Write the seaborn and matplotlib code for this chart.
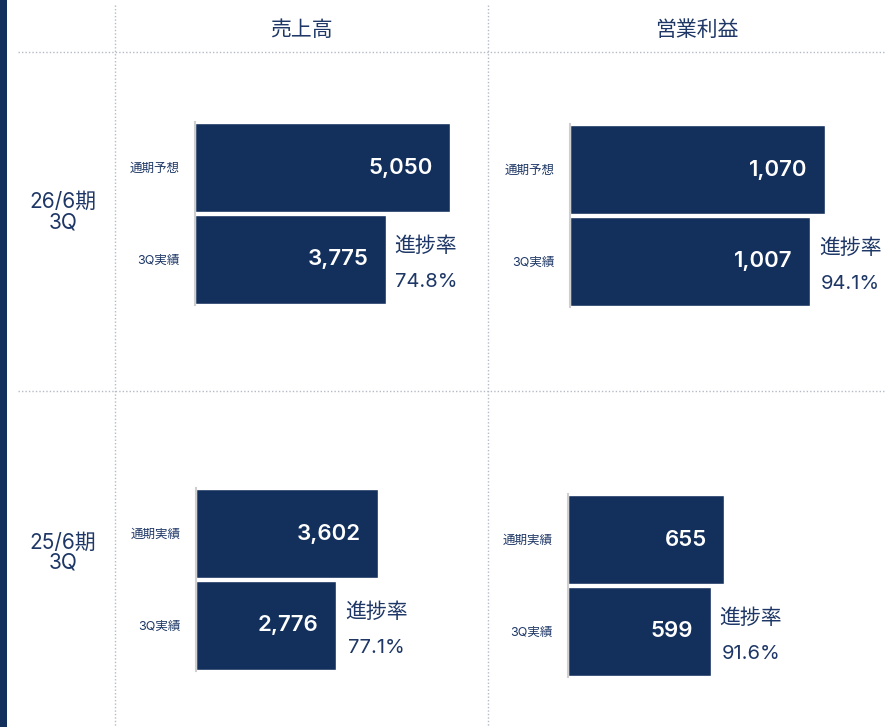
import matplotlib
matplotlib.use("Agg")
import matplotlib.pyplot as plt
import seaborn as sns
import pandas as pd
from matplotlib.lines import Line2D
from matplotlib.patches import Rectangle

# ---- data ----
metrics = ["売上高", "営業利益"]
periods = ["26/6期\n3Q", "25/6期\n3Q"]
cats_current = ["通期予想", "3Q実績"]
cats_previous = ["通期実績", "3Q実績"]
sales_current = [5050, 3775]
sales_previous = [3602, 2776]
profit_current = [1070, 1007]
profit_previous = [655, 599]
rate_label = "進捗率"
sales_rates = ["74.8%", "77.1%"]
profit_rates = ["94.1%", "91.6%"]

NAVY = "#13305d"
TEXT = "#1e3766"
GRID = "#b4bac6"
MIXED = ["Inter", "Noto Sans CJK JP", "DejaVu Sans"]

sns.set_theme(style="white")
plt.rcParams["font.family"] = ["Noto Sans CJK JP", "DejaVu Sans"]

W, H = 885, 727
fig = plt.figure(figsize=(W / 100, H / 100), dpi=100)


def fx(px):
    return px / W


def fy(py):
    return 1 - py / H


# left accent bar
fig.add_artist(Rectangle((0, 0), fx(7), 1, transform=fig.transFigure,
                         color=NAVY, lw=0))

# dotted grid lines
for y in (52, 391):
    fig.add_artist(Line2D([fx(18), fx(885)], [fy(y), fy(y)], transform=fig.transFigure,
                          color=GRID, lw=1, ls=(0, (1, 1.5))))
for x in (115, 488):
    fig.add_artist(Line2D([fx(x), fx(x)], [fy(5), fy(727)], transform=fig.transFigure,
                          color=GRID, lw=1, ls=(0, (1, 1.5))))

# headers
for m, cx in zip(metrics, (301, 697)):
    fig.text(fx(cx), fy(30), m, ha="center", va="center", fontsize=15, color=TEXT)
for p, cy in zip(periods, (212, 553)):
    fig.text(fx(63), fy(cy), p, ha="center", va="center", fontsize=15, color=TEXT,
             linespacing=1.0, family=MIXED)

# panels: (values, cats, rate, left px, top px, max for column)
panels = [
    (sales_current, cats_current, sales_rates[0], 195, 122, max(sales_current)),
    (profit_current, cats_current, profit_rates[0], 570, 124, max(profit_current)),
    (sales_previous, cats_previous, sales_rates[1], 196, 488, max(sales_current)),
    (profit_previous, cats_previous, profit_rates[1], 568, 494, max(profit_current)),
]

AX_W = 300
FULL = 255  # px for column max
AX_H = 183

for vals, cats, rate, left, top, vmax in panels:
    ax = fig.add_axes([fx(left), fy(top + AX_H), fx(AX_W), AX_H / H])
    df = pd.DataFrame({"cat": cats, "val": vals})
    sns.barplot(data=df, x="val", y="cat", orient="h", color=NAVY, width=0.975,
                edgecolor="white", linewidth=1, saturation=1, ax=ax)
    ax.set_xlim(0, vmax * AX_W / FULL)
    ax.set_ylim(1.5, -0.5)
    ax.set_xlabel("")
    ax.set_ylabel("")
    ax.set_xticks([])
    for s in ("top", "right", "bottom"):
        ax.spines[s].set_visible(False)
    ax.spines["left"].set_color("#cfcfcf")
    ax.spines["left"].set_linewidth(1.5)
    ax.tick_params(axis="y", length=0, pad=11, labelsize=9, labelcolor=TEXT)
    for lbl in ax.get_yticklabels():
        lbl.set_family(MIXED)
    ax.patch.set_alpha(0)
    for i, v in enumerate(vals):
        ax.annotate(f"{v:,}", xy=(v, i), xytext=(-12.5, 0), textcoords="offset points",
                    ha="right", va="center", color="white", fontsize=16,
                    fontweight="semibold", family=["Inter", "DejaVu Sans"])
    ax.annotate(rate_label, xy=(vals[1], 1), xytext=(29, 9.5), textcoords="offset points",
                ha="center", va="center", color=TEXT, fontsize=15)
    ax.annotate(rate, xy=(vals[1], 1), xytext=(29, -16.5), textcoords="offset points",
                ha="center", va="center", color=TEXT, fontsize=14.5,
                family=["Inter", "DejaVu Sans"])

fig.savefig("out.png", dpi=100)
